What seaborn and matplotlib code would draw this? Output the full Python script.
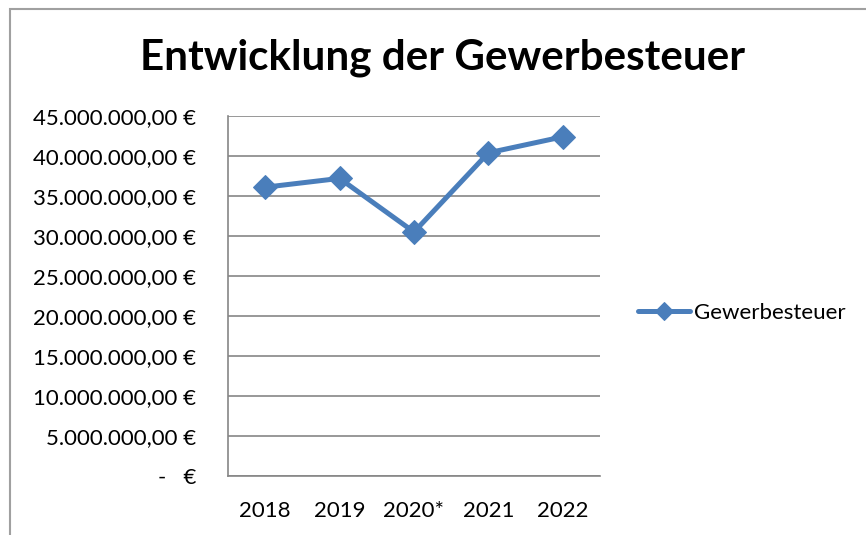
import numpy as np
import pandas as pd
import matplotlib.pyplot as plt
import seaborn as sns
from matplotlib.patches import Rectangle
from matplotlib.ticker import FixedLocator, FuncFormatter

# data
years = ["2018", "2019", "2020*", "2021", "2022"]
steuer = [36100000, 37200000, 30500000, 40400000, 42400000]
y_ticks = [0, 5000000, 10000000, 15000000, 20000000, 25000000,
           30000000, 35000000, 40000000, 45000000]

df = pd.DataFrame({"Jahr": years, "Gewerbesteuer": steuer})

sns.set_style("white")
plt.rcParams['font.family'] = ['Lato', 'DejaVu Sans']
plt.rcParams['text.color'] = "black"

blue = "#4A7EBB"
grey = "#868686"

fig = plt.figure(figsize=(8.66, 5.35), dpi=100)
ax = fig.add_axes([228 / 866, 1 - 476 / 535, 372 / 866, 360 / 535])

sns.lineplot(data=df, x="Jahr", y="Gewerbesteuer", ax=ax, color=blue,
             linewidth=3.6, marker="D", markersize=12.5, markeredgecolor=blue,
             label="Gewerbesteuer", sort=False)
ax.get_legend().remove()


def euro(v, pos):
    if v == 0:
        return "-   €"
    s = f"{v:,.2f}".replace(",", "X").replace(".", ",").replace("X", ".")
    return s + " €"


ax.set_ylim(0, 45000000)
ax.set_xlim(-0.5, 4.5)
ax.yaxis.set_major_locator(FixedLocator(y_ticks))
ax.yaxis.set_major_formatter(FuncFormatter(euro))
ax.xaxis.set_major_locator(FixedLocator(np.arange(-0.5, 5, 1)))
ax.xaxis.set_major_formatter(FuncFormatter(lambda v, p: ""))
ax.xaxis.set_minor_locator(FixedLocator(range(len(years))))
ax.set_xticklabels(years, minor=True)
ax.tick_params(axis="x", which="major", direction="out", length=6,
               color=grey, width=1)
ax.tick_params(axis="x", which="minor", length=0, pad=18, labelsize=16,
               labelcolor="black")
ax.tick_params(axis="y", direction="out", length=6, color=grey, width=1,
               pad=17, labelsize=16, labelcolor="black")
ax.set_xlabel("")
ax.set_ylabel("")
ax.grid(axis="y", color=grey, linewidth=1.2)
ax.set_axisbelow(True)
for side in ["top", "right"]:
    ax.spines[side].set_visible(False)
for side in ["left", "bottom"]:
    ax.spines[side].set_color(grey)
    ax.spines[side].set_linewidth(1.2)

fig.text(0.511, 1 - 58 / 535, "Entwicklung der Gewerbesteuer",
         ha="center", va="center", fontsize=30.3, fontweight="bold",
         color="black")

handles, labels = ax.get_legend_handles_labels()
fig.legend(handles, labels, loc="center left",
           bbox_to_anchor=(638 / 866, 1 - 313 / 535), frameon=False,
           fontsize=16, handlelength=2.35, handletextpad=0.15,
           borderpad=0, borderaxespad=0, markerscale=0.75)

# chart border (cut off at right and bottom)
fig.patches.append(Rectangle((10 / 866, -0.1), 1.0, 1 - 9 / 535 + 0.1,
                             transform=fig.transFigure, fill=False,
                             edgecolor="#A0A0A0", linewidth=1.5))

fig.savefig("out.png", dpi=100)
